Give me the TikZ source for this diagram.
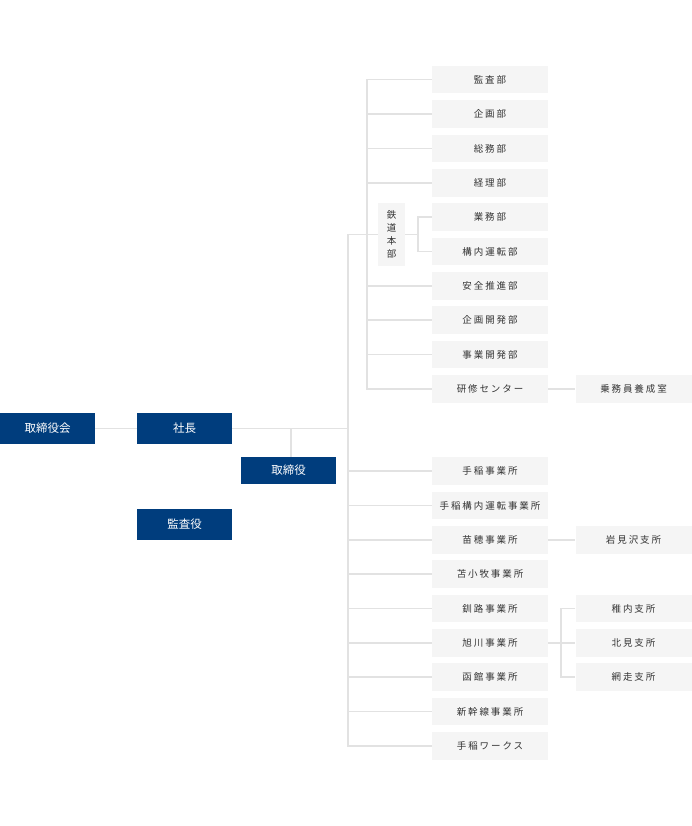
\documentclass[tikz,border=0pt]{standalone}
\usepackage{fontspec}
\usepackage{tikz}
\usetikzlibrary{positioning,calc}
\newfontfamily\jp{Noto Sans CJK JP}
\newfontfamily\jpsp[LetterSpace=20]{Noto Sans CJK JP}
\definecolor{navy}{RGB}{0,61,125}
\definecolor{boxgray}{RGB}{245,245,245}
\definecolor{linegray}{RGB}{226,226,226}
\definecolor{textgray}{RGB}{51,51,51}

\begin{document}
\begin{tikzpicture}[x=1pt, y=-1pt,
    exec/.style={fill=navy, text=white, inner sep=0pt, minimum width=95pt, minimum height=31pt, font=\jp\fontsize{11.5}{13}\selectfont},
    dept/.style={fill=boxgray, text=textgray, inner sep=0pt, minimum width=116pt, minimum height=27.5pt, font=\jpsp\fontsize{9.5}{11}\selectfont},
    link/.style={draw=linegray, line width=1.6pt}]
    \useasboundingbox (0,0) rectangle (692,826);

    % executives
    \node[exec] (board) at (47.5,428.5) {取締役会};
    \node[exec] (president) at (184.5,428.5) {社長};
    \node[exec, minimum height=27.5pt] (directors) at (288.5,470.5) {取締役};
    \node[exec] (auditors) at (184.5,524.5) {監査役};

    % railway headquarters
    \node[fill=boxgray, text=textgray, inner sep=0pt, minimum width=27pt, minimum height=63pt, align=center,
          font=\jp\fontsize{9.5}{13}\selectfont] (railhq) at (391.5,234.5) {鉄\\道\\本\\部};

    % departments
    \node[dept] (audit) at (490,79.5) {監査部};
    \node[dept] (planning) at (490,114) {企画部};
    \node[dept] (general) at (490,148.5) {総務部};
    \node[dept] (accounting) at (490,183) {経理部};
    \node[dept] (operations) at (490,217) {業務部};
    \node[dept] (yard) at (490,251.5) {構内運転部};
    \node[dept] (safety) at (490,286) {安全推進部};
    \node[dept] (development) at (490,320) {企画開発部};
    \node[dept] (business) at (490,354.5) {事業開発部};
    \node[dept] (training) at (490,389) {研修センター};
    \node[dept] (crew) at (633.5,389) {乗務員養成室};

    % offices
    \node[dept] (teine) at (490,471) {手稲事業所};
    \node[dept] (teineyard) at (490,505.5) {手稲構内運転事業所};
    \node[dept] (naebo) at (490,540) {苗穂事業所};
    \node[dept] (tomakomai) at (490,574) {苫小牧事業所};
    \node[dept] (kushiro) at (490,608.5) {釧路事業所};
    \node[dept] (asahikawa) at (490,643) {旭川事業所};
    \node[dept] (hakodate) at (490,677) {函館事業所};
    \node[dept] (shinkansen) at (490,711.5) {新幹線事業所};
    \node[dept] (teineworks) at (490,746) {手稲ワークス};

    % branches
    \node[dept] (iwamizawa) at (633.5,540) {岩見沢支所};
    \node[dept] (wakkanai) at (633.5,608.5) {稚内支所};
    \node[dept] (kitami) at (633.5,643) {北見支所};
    \node[dept] (abashiri) at (633.5,677) {網走支所};

    % bus lines
    \coordinate (mainbus) at (348,0);
    \coordinate (hqbus) at (367,0);
    \coordinate (subbus) at (418,0);
    \coordinate (brbus) at (561,0);

    % connectors
    \draw[link] (board) -- (president);
    \draw[link] (president.east) -- (president.east -| mainbus);
    \draw[link] (directors.north -| 291,0) -- (president.east -| 291,0);
    \draw[link] (railhq.west) -- (railhq.west -| mainbus) -- (teineworks.west -| mainbus) -- (teineworks.west);
    \draw[link] (audit.west) -- (audit.west -| hqbus) -- (training.west -| hqbus) -- (training.west);
    \draw[link] (planning.west) -- (planning.west -| hqbus);
    \draw[link] (general.west) -- (general.west -| hqbus);
    \draw[link] (accounting.west) -- (accounting.west -| hqbus);
    \draw[link] (safety.west) -- (safety.west -| hqbus);
    \draw[link] (development.west) -- (development.west -| hqbus);
    \draw[link] (business.west) -- (business.west -| hqbus);
    \draw[link] (railhq.east) -- (railhq.east -| subbus);
    \draw[link] (operations.west) -- (operations.west -| subbus) -- (yard.west -| subbus) -- (yard.west);
    \draw[link] (training) -- (crew);
    \draw[link] (teine.west) -- (teine.west -| mainbus);
    \draw[link] (teineyard.west) -- (teineyard.west -| mainbus);
    \draw[link] (naebo.west) -- (naebo.west -| mainbus);
    \draw[link] (tomakomai.west) -- (tomakomai.west -| mainbus);
    \draw[link] (kushiro.west) -- (kushiro.west -| mainbus);
    \draw[link] (asahikawa.west) -- (asahikawa.west -| mainbus);
    \draw[link] (hakodate.west) -- (hakodate.west -| mainbus);
    \draw[link] (shinkansen.west) -- (shinkansen.west -| mainbus);
    \draw[link] (naebo) -- (iwamizawa);
    \draw[link] (asahikawa) -- (kitami);
    \draw[link] (wakkanai.west) -- (wakkanai.west -| brbus) -- (abashiri.west -| brbus) -- (abashiri.west);
\end{tikzpicture}
\end{document}
